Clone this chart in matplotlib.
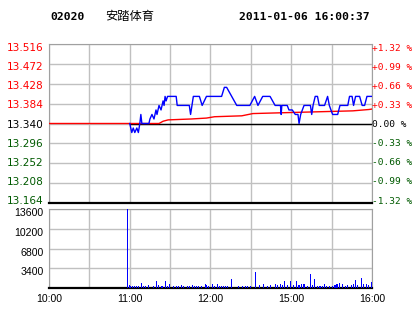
import matplotlib
matplotlib.use("Agg")
import matplotlib.pyplot as plt
import matplotlib.transforms as mtransforms

# price axis
price_ticks = [13.164, 13.208, 13.252, 13.296, 13.340, 13.384, 13.428, 13.472, 13.516]
pct_labels = ["-1.32 %", "-0.99 %", "-0.66 %", "-0.33 %", "0.00 %",
              "+0.33 %", "+0.66 %", "+0.99 %", "+1.32 %"]
prev_close = 13.340

# minutes since 10:00 on a trading clock (12:00 -> 14:30 collapsed)
price_min = [60, 61.5, 62.6, 63.75, 65.25, 66.4, 67.5, 68.25, 69, 74.25, 75, 76.5, 78,
             79.5, 80.25, 81.75, 83.25, 84.75, 85.5, 86.25, 87, 88.1, 94.5, 95.25,
             104.25, 105.2, 107.25, 111.75, 113.8, 117, 128.25, 130.3, 132, 139.5,
             149.25, 152.8, 155.25, 158.8, 164.25, 168, 172, 172.5, 173, 174, 177,
             178.3, 180.75, 183, 185, 185.8, 187, 188.25, 189.5, 194.25, 195.2, 196.2,
             197.8, 199.5, 200.8, 204.75, 207, 208.3, 209.5, 210.75, 214.5, 216.2,
             222, 223.3, 225.2, 226.3, 227.8, 230.8, 232.7, 234.5, 236.25, 240]
price = [13.34, 13.32, 13.33, 13.32, 13.33, 13.32, 13.34, 13.36, 13.34, 13.34, 13.35,
         13.36, 13.35, 13.37, 13.36, 13.38, 13.37, 13.39, 13.38, 13.40, 13.39, 13.40,
         13.40, 13.38, 13.38, 13.36, 13.40, 13.40, 13.38, 13.40, 13.40, 13.42, 13.42,
         13.38, 13.38, 13.40, 13.38, 13.40, 13.40, 13.38, 13.38, 13.36, 13.38, 13.38,
         13.38, 13.37, 13.37, 13.36, 13.36, 13.34, 13.36, 13.37, 13.38, 13.38, 13.36,
         13.38, 13.40, 13.40, 13.38, 13.38, 13.40, 13.38, 13.37, 13.36, 13.36, 13.38,
         13.38, 13.40, 13.40, 13.38, 13.40, 13.40, 13.38, 13.38, 13.40, 13.40]

avg_min = [0, 81.75, 84.75, 88.5, 105.75, 117, 123, 143.25, 151.5, 188.25, 225.75, 237.75, 240]
avg_price = [13.340, 13.340, 13.345, 13.348, 13.350, 13.352, 13.355, 13.357, 13.362,
             13.365, 13.368, 13.371, 13.372]

vol_min = [58.5, 59.5, 60.75, 62, 63.2, 65.25, 66.2, 68.7, 70.2, 72, 73.7, 77.7, 79.7,
           81.2, 83.25, 84.2, 86.7, 88.2, 89.7, 92.7, 94.5, 96.2, 98.25, 99.75, 103.2,
           104.7, 106.7, 108.2, 109.7, 111.2, 113.25, 116.25, 117.2, 118.7, 121.7,
           123.2, 125.25, 126.75, 128.25, 129.75, 131.25, 132.75, 135.75, 140.75,
           143.75, 145.75, 147.75, 149.5, 153.2, 156.2, 159.5, 162.5, 164.5, 168.2,
           170, 172, 173.5, 175, 177, 179.5, 182, 184, 185.75, 187.5, 189.5, 192,
           194.5, 196, 197.5, 199.5, 200.75, 202, 203.25, 205, 206.5, 208.25, 210.75,
           212.5, 214, 216, 218, 220, 222, 224.5, 226.5, 227.75, 229.5, 232, 233.75,
           235.75, 237.5, 240]
volume = [13600, 460, 290, 290, 290, 290, 290, 860, 290, 290, 460, 290, 1150,
          460, 290, 290, 1150, 290, 630, 290, 290, 290, 460, 290, 290,
          290, 460, 290, 290, 290, 290, 630, 460, 290, 630,
          290, 630, 290, 290, 290, 290, 290, 1490, 290,
          290, 290, 290, 290, 2700, 460, 630, 290, 460, 630,
          460, 630, 460, 1150, 460, 1150, 460, 1150, 460, 630, 630, 290,
          2400, 460, 1600, 290, 290, 290, 290, 630, 290, 290, 290,
          460, 630, 800, 630, 290, 460, 460, 630, 1320, 460, 1720, 750,
          750, 460, 970]
vol_ticks = [3400, 6800, 10200, 13600]

x_ticks = [0, 30, 60, 90, 120, 150, 180, 210, 240]
x_labels = ["10:00", "", "11:00", "", "12:00", "", "15:00", "", "16:00"]

red = "#ff0000"
green = "#005a00"
grid_c = "#c0c0c0"
frame_c = "#a0a0a0"

fig = plt.figure(figsize=(4.14, 3.14), dpi=100)
W, H = 414.0, 314.0
ax = fig.add_axes([49 / W, (H - 203) / H, 323 / W, 159 / H])
axv = fig.add_axes([49 / W, (H - 288) / H, 323 / W, 79 / H])

# title line
fig.text(50 / W, 1 - 16.5 / H, "02020", family="DejaVu Sans Mono", weight="bold",
         fontsize=8.2, va="center", ha="left")
fig.text(105 / W, 1 - 16.5 / H, "安踏体育", family=["Noto Sans CJK SC", "DejaVu Sans"],
         fontsize=8.8, va="center", ha="left")
fig.text(370 / W, 1 - 16.5 / H, "2011-01-06 16:00:37", family="DejaVu Sans Mono",
         weight="bold", fontsize=8.2, va="center", ha="right")

# price panel
ax.plot([60, 240], [prev_close, prev_close], color="black", lw=1.0, zorder=2)
ax.plot(avg_min, avg_price, color=red, lw=1.0, zorder=3)
ax.plot(price_min, price, color="#0000ff", lw=1.0, zorder=4)
ax.set_xlim(0, 240)
ax.set_ylim(price_ticks[0], price_ticks[-1])
ax.set_xticks(x_ticks)
ax.set_xticklabels([])
ax.set_yticks(price_ticks)
ax.set_yticklabels(["%.3f" % p for p in price_ticks], fontsize=7.6, family="DejaVu Sans")
ax.grid(True, color=grid_c, lw=1.0)
ax.set_axisbelow(True)
ax.tick_params(length=0, pad=4)
for s in ["top", "left", "right"]:
    ax.spines[s].set_color(frame_c)
ax.spines["bottom"].set_color("black")
ax.spines["bottom"].set_linewidth(1.6)


def shift(px):
    return mtransforms.ScaledTranslation(0, -px / 100, fig.dpi_scale_trans)


# labels sit slightly inside the gridline span: top ones lower, bottom ones higher
n = len(price_ticks)
for i, lab in enumerate(ax.get_yticklabels()):
    p = price_ticks[i]
    lab.set_color(red if p > prev_close else (green if p < prev_close else "black"))
    lab.set_transform(lab.get_transform() + shift(3.0 * (i - 4) / 4))

axr = ax.twinx()
axr.set_ylim(price_ticks[0], price_ticks[-1])
axr.set_yticks(price_ticks)
axr.set_yticklabels(pct_labels, fontsize=6.8, family="DejaVu Sans Mono")
axr.tick_params(length=0, pad=0)
for s in axr.spines.values():
    s.set_visible(False)
for i, lab in enumerate(axr.get_yticklabels()):
    p = price_ticks[i]
    lab.set_color(red if p > prev_close else (green if p < prev_close else "black"))
    lab.set_transform(lab.get_transform() + shift(3.0 * (i - 4) / 4))

# volume panel
axv.bar(vol_min, volume, width=0.8, color="#0000ff", zorder=3)
axv.set_xlim(0, 240)
axv.set_ylim(0, 13600)
axv.set_yticks(vol_ticks)
axv.set_yticklabels([str(v) for v in vol_ticks], fontsize=7.6, family="Liberation Sans")
axv.set_xticks(x_ticks)
axv.set_xticklabels(x_labels, fontsize=7.6, family="Liberation Sans")
axv.grid(True, color=grid_c, lw=1.0)
axv.set_axisbelow(True)
axv.tick_params(length=0, pad=4)
for s in ["top", "left", "right"]:
    axv.spines[s].set_color(frame_c)
axv.spines["bottom"].set_color("black")
axv.spines["bottom"].set_linewidth(1.6)
for lab in axv.get_yticklabels():
    lab.set_transform(lab.get_transform() + shift(3.0))

fig.savefig("out.png", dpi=100)
